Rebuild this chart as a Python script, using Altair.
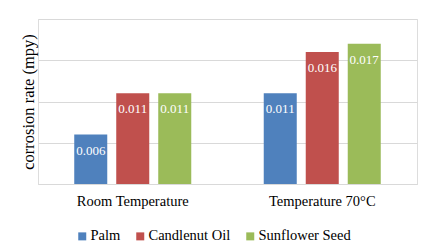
import altair as alt
import pandas as pd

conditions = ["Room Temperature", "Temperature 70°C"]
oils = ["Palm", "Candlenut Oil", "Sunflower Seed"]
palm = [0.006, 0.011]
candlenut = [0.011, 0.016]
sunflower = [0.011, 0.017]
colors = ["#4F81BD", "#C0504D", "#9BBB59"]

rows = []
for i, c in enumerate(conditions):
    for oil, vals in zip(oils, [palm, candlenut, sunflower]):
        rows.append({"condition": c, "oil": oil, "value": vals[i], "label": f"{vals[i]:.3f}"})
df = pd.DataFrame(rows)

FONT = "Liberation Serif, serif"

base = alt.Chart(df).encode(
    x=alt.X("condition:N", sort=conditions,
            scale=alt.Scale(paddingInner=0, paddingOuter=0),
            axis=alt.Axis(title=None, labelAngle=0, ticks=False, domainColor="#D9D9D9",
                          labelFont=FONT, labelFontSize=14.5, labelColor="#000000",
                          labelPadding=10)),
    xOffset=alt.XOffset("oil:N", sort=oils,
                        scale=alt.Scale(paddingInner=0.214, paddingOuter=0.863)),
    y=alt.Y("value:Q", scale=alt.Scale(domain=[0, 0.02], nice=False),
            axis=alt.Axis(title="corrosion rate (mpy)", labels=False, ticks=False, domain=False,
                          values=[0, 0.005, 0.01, 0.015, 0.02], gridColor="#D9D9D9",
                          titleFont=FONT, titleFontSize=16.5, titleFontWeight="normal",
                          titleColor="#000000", titlePadding=2)),
)

bars = base.mark_bar().encode(
    color=alt.Color("oil:N", sort=oils, scale=alt.Scale(domain=oils, range=colors),
                    legend=alt.Legend(title=None, orient="none", direction="horizontal",
                                      legendX=37, legendY=210, symbolType="square",
                                      symbolSize=64, symbolStrokeWidth=0, labelFont=FONT,
                                      labelFontSize=14.5, labelColor="#000000",
                                      labelOffset=1, columnPadding=12))
)

text = base.mark_text(color="white", font=FONT, fontSize=13, baseline="middle", dy=16).encode(
    text="label:N"
)

chart = (bars + text).properties(
    width=379, height=165,
    autosize=alt.AutoSizeParams(type="none"),
    padding={"left": 30, "top": 11, "right": 13, "bottom": 64},
).configure_view(stroke=None).configure(background="white", font=FONT).configure_legend(
    labelFont=FONT
)

chart.save("out.html", embed_options={"renderer": "svg", "actions": False})
